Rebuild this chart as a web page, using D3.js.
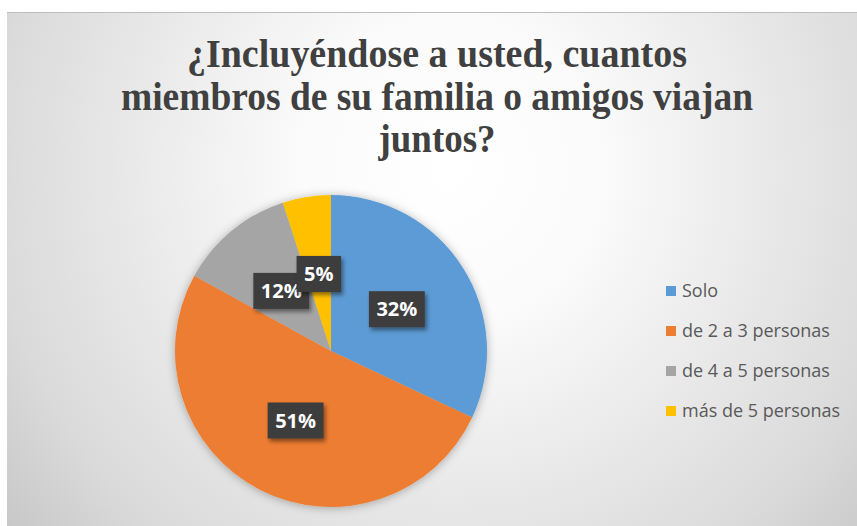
<!DOCTYPE html>
<html>
<head>
<meta charset="utf-8">
<script src="https://cdn.jsdelivr.net/npm/d3@7/dist/d3.min.js"></script>
<style>
  html, body { margin: 0; padding: 0; background: #fff; }
  svg { display: block; }
</style>
</head>
<body>
<svg id="chart"></svg>
<script>
// chart data
const categories = ['Solo', 'de 2 a 3 personas', 'de 4 a 5 personas', 'más de 5 personas'];
const values = [32, 51, 12, 5];
const labels = ['32%', '51%', '12%', '5%'];
const colors = ['#5b9bd5', '#ed7d31', '#a5a5a5', '#ffc000'];
const titleLines = ['¿Incluyéndose a usted, cuantos', 'miembros de su familia o amigos viajan', 'juntos?'];

const width = 857, height = 526;
const frame = {x: 7, y: 12, w: 850, h: 514};
const center = {x: 331, y: 351};
const radius = 156;

const svg = d3.select('#chart')
  .attr('width', width)
  .attr('height', height);

const defs = svg.append('defs');

const grad = defs.append('radialGradient')
  .attr('id', 'bg')
  .attr('gradientUnits', 'userSpaceOnUse')
  .attr('cx', 450).attr('cy', 170).attr('r', 590);
grad.append('stop').attr('offset', 0).attr('stop-color', '#ffffff');
grad.append('stop').attr('offset', 0.25).attr('stop-color', '#fbfbfb');
grad.append('stop').attr('offset', 0.78).attr('stop-color', '#dadada');
grad.append('stop').attr('offset', 1).attr('stop-color', '#c4c4c4');

const pieGlow = defs.append('filter').attr('id', 'pieGlow')
  .attr('x', '-20%').attr('y', '-20%').attr('width', '140%').attr('height', '140%');
pieGlow.append('feDropShadow')
  .attr('dx', 0).attr('dy', 1).attr('stdDeviation', 5)
  .attr('flood-color', '#000').attr('flood-opacity', 0.3);

const boxShadow = defs.append('filter').attr('id', 'boxShadow')
  .attr('x', '-30%').attr('y', '-30%').attr('width', '170%').attr('height', '170%');
boxShadow.append('feDropShadow')
  .attr('dx', 2).attr('dy', 3).attr('stdDeviation', 2)
  .attr('flood-color', '#000').attr('flood-opacity', 0.45);

// background frame
svg.append('rect')
  .attr('x', frame.x).attr('y', frame.y)
  .attr('width', frame.w).attr('height', frame.h)
  .attr('fill', 'url(#bg)');
svg.append('line')
  .attr('x1', frame.x).attr('x2', frame.x + frame.w)
  .attr('y1', frame.y + 0.5).attr('y2', frame.y + 0.5)
  .attr('stroke', '#bdbdbd').attr('stroke-width', 1);

// title
const titleWidths = [500, 632, 117];
const titleBase = [67, 110, 152];
svg.append('g').selectAll('text')
  .data(titleLines)
  .join('text')
  .attr('x', 437)
  .attr('y', (d, i) => titleBase[i])
  .attr('text-anchor', 'middle')
  .attr('textLength', (d, i) => titleWidths[i])
  .attr('lengthAdjust', 'spacingAndGlyphs')
  .attr('font-family', '"Liberation Serif", "Times New Roman", serif')
  .attr('font-weight', 'bold')
  .attr('font-size', 41)
  .attr('fill', '#404040')
  .text(d => d);

// pie
const pie = d3.pie().sort(null).value(d => d);
const arcs = pie(values);
const arc = d3.arc().innerRadius(0).outerRadius(radius);
const labelArc = d3.arc().innerRadius(radius * 0.5).outerRadius(radius * 0.5);

const g = svg.append('g')
  .attr('transform', `translate(${center.x}, ${center.y})`);

g.append('g')
  .attr('filter', 'url(#pieGlow)')
  .selectAll('path')
  .data(arcs)
  .join('path')
  .attr('d', arc)
  .attr('fill', (d, i) => colors[i]);

// data labels
const lab = g.append('g').selectAll('g')
  .data(arcs)
  .join('g')
  .attr('transform', d => `translate(${labelArc.centroid(d)})`);

lab.append('rect')
  .attr('fill', '#3d3d3d')
  .attr('filter', 'url(#boxShadow)');

lab.append('text')
  .attr('text-anchor', 'middle')
  .attr('dy', '0.36em')
  .attr('font-family', '"Open Sans", sans-serif')
  .attr('font-weight', 'bold')
  .attr('font-size', 20)
  .attr('fill', '#ffffff')
  .text((d, i) => labels[i]);

lab.each(function() {
  const t = d3.select(this).select('text').node().getBBox();
  const w = t.width + 15, h = 36;
  d3.select(this).select('rect')
    .attr('x', -w / 2).attr('y', -h / 2)
    .attr('width', w).attr('height', h);
});

// legend
const legend = svg.append('g')
  .attr('transform', 'translate(666, 291)');
const item = legend.selectAll('g')
  .data(categories)
  .join('g')
  .attr('transform', (d, i) => `translate(0, ${i * 40})`);
item.append('rect')
  .attr('x', 0).attr('y', -5)
  .attr('width', 10).attr('height', 10)
  .attr('fill', (d, i) => colors[i]);
item.append('text')
  .attr('x', 16)
  .attr('dy', '0.35em')
  .attr('font-family', '"Open Sans", sans-serif')
  .attr('font-size', 18)
  .attr('fill', '#595959')
  .text(d => d);
</script>
</body>
</html>
